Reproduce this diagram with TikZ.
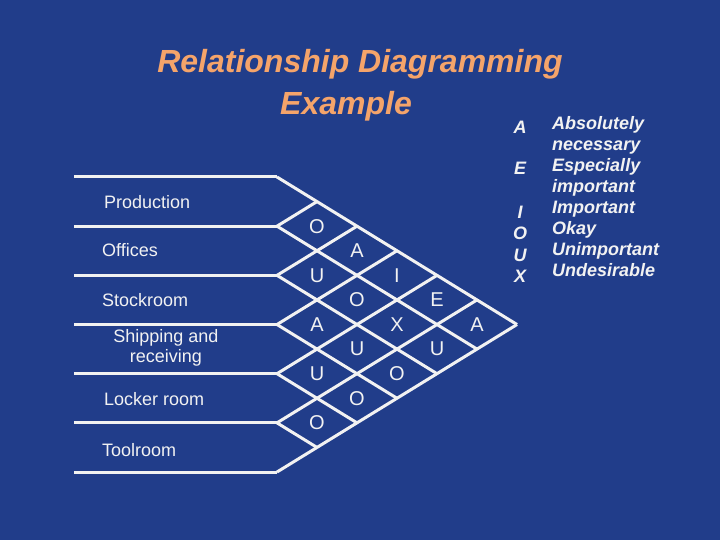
\documentclass[tikz,border=0pt]{standalone}
\usepackage{fontspec}
\setmainfont{Liberation Sans}
\definecolor{bg}{HTML}{213D8A}
\definecolor{ttl}{HTML}{F5A46A}
\definecolor{ln}{HTML}{F2F2F2}
\begin{document}
\begin{tikzpicture}[x=1pt,y=-1pt,
  grid/.style={draw=ln,line width=3pt,line join=miter},
  rowlbl/.style={text=ln,font=\fontsize{18}{19}\selectfont,anchor=west,inner sep=0},
  cell/.style={text=ln,font=\fontsize{20}{20}\selectfont,inner sep=0},
  title/.style={text=ttl,font=\fontsize{32}{34}\selectfont\bfseries\itshape},
  leg/.style={text=ln,font=\fontsize{18}{21}\selectfont\bfseries\itshape,inner sep=0}]
\fill[bg] (0,0) rectangle (720,540);
\useasboundingbox (0,0) rectangle (720,540);
\def\h{49.17}
% horizontal lines and diagonals
\foreach \i in {0,...,6}{
  \coordinate (b\i) at (277,177+\i*\h);
  \draw[grid] (74,177+\i*\h) -- (b\i);
}
\foreach \i in {0,...,5}{
  \pgfmathsetmacro{\k}{6-\i}
  \draw[grid] (b\i) -- ++(40*\k,\k*\h/2);
}
\foreach \i in {1,...,6}{
  \draw[grid] (b\i) -- ++(40*\i,-\i*\h/2);
}
% row labels
\node[rowlbl] (r0) at (104,202) {Production};
\node[rowlbl] (r1) at (102,250) {Offices};
\node[rowlbl] (r2) at (102,300) {Stockroom};
\node[rowlbl,anchor=center,align=center,font=\fontsize{18}{20}\selectfont] (r3) at (166,348) {Shipping and\\receiving};
\node[rowlbl] (r4) at (104,399) {Locker room};
\node[rowlbl] (r5) at (102,450) {Toolroom};
% cells
\foreach \i/\j/\t in {0/1/O,1/2/U,2/3/A,3/4/U,4/5/O,0/2/A,1/3/O,2/4/U,3/5/O,0/3/I,1/4/X,2/5/O,0/4/E,1/5/U,0/5/A}{
  \node[cell] (c\i\j) at (277+40*\j-40*\i,177+\h*\i/2+\h*\j/2+\h/2) {\t};
}
% title
\node[title,align=center] (t1) at (360,64) {Relationship Diagramming};
\node[title] (t2) at (346,106) {Example};
% legend
\foreach \y/\l/\n in {127/A/la,168/E/le,212/I/li,233/O/lo,255/U/lu,276/X/lx}{
  \node[leg] (\n) at (520,\y) {\l};
}
\node[leg,anchor=north west,align=left] (desc) at (552,116) {Absolutely\\necessary\\Especially\\important\\Important\\Okay\\Unimportant\\Undesirable};
\end{tikzpicture}
\end{document}
